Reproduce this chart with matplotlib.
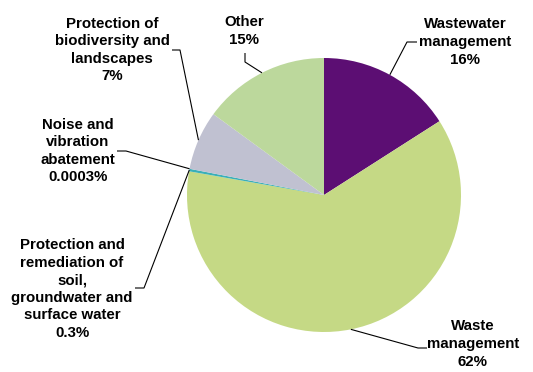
import numpy as np
import matplotlib.pyplot as plt

plt.rcParams['font.family'] = ['Liberation Sans', 'DejaVu Sans']

categories = ["Wastewater\nmanagement", "Waste\nmanagement",
              "Protection and\nremediation of\nsoil,\ngroundwater and\nsurface water",
              "Noise and\nvibration\nabatement",
              "Protection of\nbiodiversity and\nlandscapes", "Other"]
values = [16, 62, 0.3, 0.0003, 7, 15]
pct_labels = ["16%", "62%", "0.3%", "0.0003%", "7%", "15%"]
colors = ["#5C0E73", "#C5D985", "#3AAFB8", "#4F81BD", "#C0C1D1", "#BCD89C"]

W, H = 533, 372
cx, cy, R = 324, 195, 137

# label layout in pixel coords (y from top): text centre, leader end, elbow
layout = [
    ((465, 42), (417, 42), (407, 42)),
    ((473, 344), (427, 348), (418, 348)),
    ((72, 289), (135, 288), (144, 288)),
    ((78, 151), (117, 151), (126, 151)),
    ((112, 50), (172, 50), (180, 50)),
    ((244, 31), (245, 53), (245, 62)),
]

fig = plt.figure(figsize=(W / 100, H / 100), dpi=100)
ax = fig.add_axes([0, 0, 1, 1])

wedges, _ = ax.pie(values, colors=colors, startangle=90, counterclock=False,
                   center=(cx, H - cy), radius=R,
                   wedgeprops=dict(linewidth=0))
ax.set_xlim(0, W)
ax.set_ylim(0, H)
ax.set_aspect('equal')
ax.axis('off')

for w, cat, pct, (txt, end, elbow) in zip(wedges, categories, pct_labels, layout):
    mid = np.deg2rad((w.theta1 + w.theta2) / 2)
    px = cx + R * np.cos(mid)
    py = H - cy + R * np.sin(mid)
    ax.plot([end[0], elbow[0], px], [H - end[1], H - elbow[1], py],
            color='black', lw=0.8, solid_capstyle='butt')
    ax.text(txt[0], H - txt[1], cat + "\n" + pct, ha='center', va='center',
            fontsize=10.8, fontweight='bold', linespacing=1.33)

fig.savefig("out.png", dpi=100)
